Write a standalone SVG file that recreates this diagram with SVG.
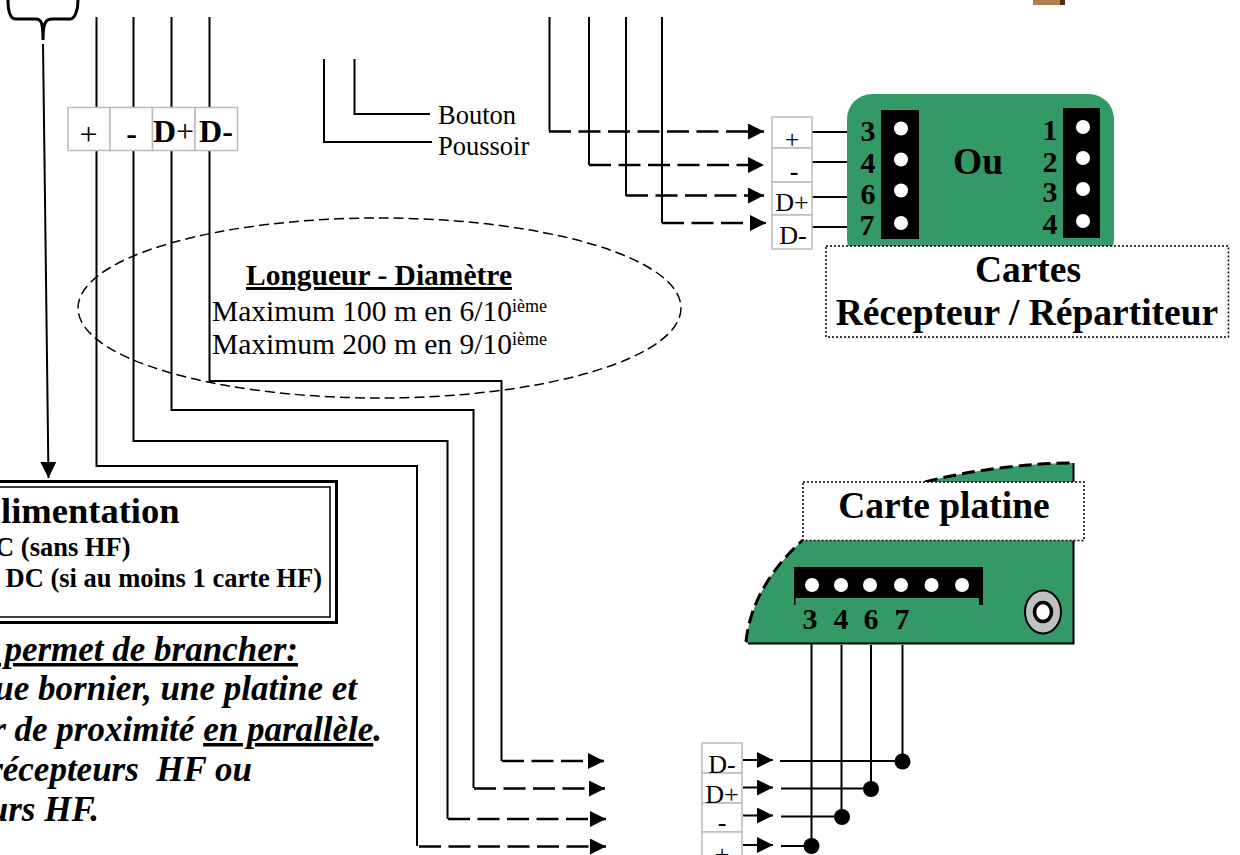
<svg xmlns="http://www.w3.org/2000/svg" width="1240" height="855" viewBox="0 0 1240 855">
<style>
text{font-family:"Liberation Serif","Times New Roman",serif;fill:#000}
.b{font-weight:bold}
.bi{font-weight:bold;font-style:italic;font-size:35px;text-anchor:end}
.e{text-anchor:end}
.w{fill:none;stroke:#000;stroke-width:2}
.d{stroke-dasharray:22 7.5;stroke-width:2.3}
.term{fill:#fff;stroke:#bbb;stroke-width:1.5}
.lbl{fill:#fff;stroke:#000;stroke-width:1.5;stroke-dasharray:2 2}
.pcb{fill:#339966}
.hole{fill:#fff}
.n{font-weight:bold;font-size:30px;text-anchor:middle}
.t30{font-size:32px;text-anchor:middle}
.t25{font-size:26px;text-anchor:middle}
.big{font-weight:bold;font-size:37.5px;text-anchor:middle}
</style>
<defs>
<marker id="ah" markerUnits="userSpaceOnUse" markerWidth="16" markerHeight="16" refX="16" refY="8" orient="auto"><path d="M0,0L16,8L0,16Z"/></marker>
</defs>

<g id="wood"><rect x="1033" y="0" width="27" height="5" fill="#b08050"/><rect x="1060" y="0" width="5" height="5" fill="#4a3010"/></g>

<g id="carte-recepteur">
<rect class="pcb" x="847" y="94" width="267" height="170" rx="25"/>
<rect x="881" y="110" width="38" height="129"/>
<rect x="1063" y="108" width="37" height="130"/>
<g class="hole"><circle cx="901" cy="128.5" r="7"/><circle cx="901" cy="159.5" r="7"/><circle cx="901" cy="190.5" r="7"/><circle cx="901" cy="223" r="7"/><circle cx="1083" cy="127" r="7"/><circle cx="1083" cy="158" r="7"/><circle cx="1083" cy="189" r="7"/><circle cx="1083" cy="221" r="7"/></g>
<text class="n" x="868" y="141">3</text><text class="n" x="868" y="173">4</text><text class="n" x="868" y="204">6</text><text class="n" x="867" y="235">7</text>
<text class="n" x="1050" y="140">1</text><text class="n" x="1050" y="172">2</text><text class="n" x="1050" y="202">3</text><text class="n" x="1050" y="234">4</text>
<text class="big" x="978" y="174">Ou</text>
</g>
<g id="label-cartes">
<rect class="lbl" x="826" y="246" width="402.5" height="91"/>
<text class="big" x="1028" y="282">Cartes</text>
<text class="big" x="1027" y="325">Récepteur / Répartiteur</text>
</g>

<g id="carte-platine">
<path class="pcb" d="M746,643C750,600 775,565 803,540L925,482C970,470 1030,463 1073,463V643Z"/>
<path fill="none" stroke="#000" stroke-width="3" stroke-dasharray="13 6" d="M746,642C750,600 775,565 803,540M925,482C970,470 1030,463 1073,463"/>
<path fill="none" stroke="#000" stroke-width="2" d="M748,643.5H1073.5V463"/>
<path d="M794,567H983V605H979V598H795.5V605H794Z"/>
<g class="hole"><circle cx="812" cy="585" r="7"/><circle cx="841" cy="585" r="7"/><circle cx="870" cy="585" r="7"/><circle cx="901" cy="585" r="7"/><circle cx="931.5" cy="585" r="7"/><circle cx="962" cy="585" r="7"/></g>
<text class="n" x="810" y="629">3</text><text class="n" x="841" y="629">4</text><text class="n" x="871" y="629">6</text><text class="n" x="902" y="629">7</text>
<ellipse cx="1043" cy="612" rx="18" ry="21.5" fill="#c0c0c0" stroke="#000" stroke-width="2"/>
<ellipse cx="1043" cy="612" rx="8.5" ry="9.5" fill="#fff" stroke="#000" stroke-width="3.5"/>
</g>
<g id="label-platine">
<rect class="lbl" x="803" y="482" width="281" height="58.5"/>
<text class="big" x="944" y="518">Carte platine</text>
</g>

<g id="connectors">
<path fill="none" stroke="#000" stroke-width="3" d="M8,0C8,10 10,19 16,19H36C41,19 43,22 43,40C43,22 46,19 52,19H70C75,19 78,10 78,0"/>
<path class="w" marker-end="url(#ah)" d="M43,44L45,200L48.500,478"/>
<path class="w" d="M96.500,17V466H417V846"/>
<path class="w" d="M133.500,17V441H447.500V819"/>
<path class="w" d="M171.500,17V410H473.500V788"/>
<path class="w" d="M209.500,17V381H501.500V761"/>
<path class="w d" marker-end="url(#ah)" d="M502,761H604"/>
<path class="w d" marker-end="url(#ah)" d="M474,788.500H605"/>
<path class="w d" marker-end="url(#ah)" d="M448,819H606"/>
<path class="w d" marker-end="url(#ah)" d="M419,846.500H606"/>
<path class="w" d="M324,59V142H432"/>
<path class="w" d="M354.500,59V114H430"/>
<path class="w" d="M549.500,17V131"/><path class="w" d="M589,17V165"/><path class="w" d="M626,17V196"/><path class="w" d="M662,17V223"/>
<path class="w d" marker-end="url(#ah)" d="M549,131.500H764"/>
<path class="w d" marker-end="url(#ah)" d="M589,165H764"/>
<path class="w d" marker-end="url(#ah)" d="M626,195.500H764"/>
<path class="w d" marker-end="url(#ah)" d="M662,223H766"/>
<path class="w" d="M812,132H847M812,162H847M812,197H847M812,227H847"/>
<path class="w" d="M811.500,643V846M841.500,645V817M871,645V789M902.500,645V761"/>
<path class="w" d="M780,761H902M781,788.500H871M781,816.500H842M781,846H811"/>
<path class="w" marker-end="url(#ah)" d="M743,760H773"/>
<path class="w" marker-end="url(#ah)" d="M743,787.500H773"/>
<path class="w" marker-end="url(#ah)" d="M743,815.500H773"/>
<path class="w" marker-end="url(#ah)" d="M743,845H773"/>
<circle cx="902.500" cy="761.500" r="8"/><circle cx="871" cy="789" r="8"/><circle cx="842" cy="817" r="8"/><circle cx="811.500" cy="846" r="8"/>
</g>

<g id="bornier-haut">
<rect class="term" x="68" y="107.500" width="42" height="43"/><rect class="term" x="110" y="107.500" width="42.500" height="43"/><rect class="term" x="152.500" y="107.500" width="42.500" height="43"/><rect class="term" x="195" y="107.500" width="42.500" height="43"/>
<text class="t30" x="88.500" y="145">+</text><text class="t30 b" x="131.500" y="144">-</text>
<text class="t30" x="173.500" y="142"><tspan class="b">D</tspan>+</text><text class="t30" x="216" y="142"><tspan class="b">D-</tspan></text>
</g>
<g id="bornier-droit">
<rect class="term" x="772" y="117" width="40" height="31"/><rect class="term" x="772" y="148" width="40" height="34"/><rect class="term" x="772" y="182" width="40" height="33"/><rect class="term" x="772" y="215" width="40" height="34"/>
<text class="t25" x="792" y="148">+</text><text class="t25 b" x="794" y="180">-</text><text class="t25" x="792" y="211">D+</text><text class="t25" x="793" y="244">D-</text>
</g>
<g id="bornier-bas">
<rect class="term" x="702" y="743" width="40" height="30"/><rect class="term" x="702" y="773" width="40" height="30"/><rect class="term" x="702" y="803" width="40" height="29"/><rect class="term" x="702" y="832" width="40" height="30"/>
<text class="t25" x="722" y="773">D-</text><text class="t25" x="722" y="803">D+</text><text class="t25" x="722" y="831">-</text><text class="t25" x="722" y="863">+</text>
</g>

<g id="bouton">
<text x="438" y="124" font-size="26.500">Bouton</text>
<text x="438" y="155" font-size="26.500">Poussoir</text>
</g>

<g id="longueur">
<ellipse cx="379.500" cy="308" rx="301.500" ry="90" fill="none" stroke="#000" stroke-width="1.500" stroke-dasharray="10 5"/>
<text x="379" y="285" font-size="29.500" font-weight="bold" text-anchor="middle" text-decoration="underline">Longueur - Diamètre</text>
<text x="212" y="321" font-size="29.500">Maximum 100 m en 6/10<tspan font-size="18" dy="-9">ième</tspan></text>
<text x="212" y="354" font-size="29.500">Maximum 200 m en 9/10<tspan font-size="18" dy="-9">ième</tspan></text>
</g>

<g id="alimentation">
<rect x="-10" y="481.500" width="346.500" height="141" fill="#fff" stroke="#000" stroke-width="3"/>
<rect x="-10" y="487" width="340" height="130" fill="none" stroke="#000" stroke-width="1.500"/>
<text class="b e" x="179.500" y="523" font-size="36.500">limentation</text>
<text class="b e" x="130.500" y="556" font-size="26.500">C (sans HF)</text>
<text class="b e" x="322" y="587" font-size="26.500">DC (si au moins 1 carte HF)</text>
</g>

<g id="note">
<text class="bi" x="298" y="661" xml:space="preserve" text-decoration="underline"> permet de brancher:</text>
<text class="bi" x="357" y="700">ue bornier, une platine et</text>
<text class="bi" x="382" y="741">r de proximité <tspan text-decoration="underline">en parallèle</tspan>.</text>
<text class="bi" x="252" y="781" xml:space="preserve">récepteurs  HF ou</text>
<text class="bi" x="99" y="821">urs HF.</text>
</g>
</svg>
